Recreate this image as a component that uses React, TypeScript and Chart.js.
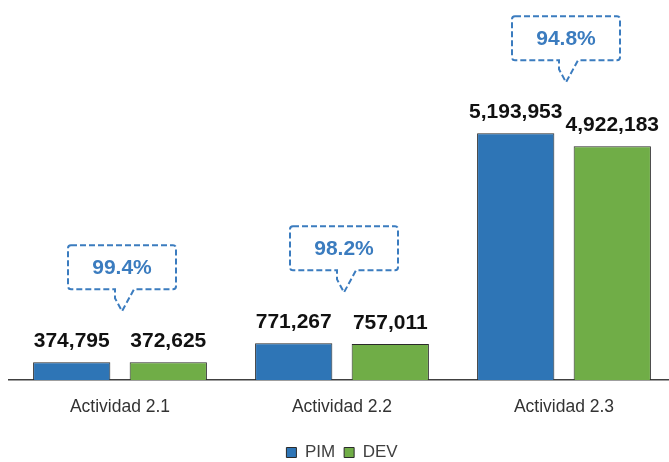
import React, { useEffect, useRef } from "react";
import { Chart, registerables } from "chart.js";

Chart.register(...registerables);

const categories = ["Actividad 2.1", "Actividad 2.2", "Actividad 2.3"];
const pimValues = [374795, 771267, 5193953];
const devValues = [372625, 757011, 4922183];
const seriesNames = ["PIM", "DEV"];
const yMax = 8000000;

const FONT = "'Liberation Sans', Arial, sans-serif";
const CALLOUT_COLOR = "#3B7CBF";

const valueLabels = {
  id: "valueLabels",
  afterDatasetsDraw(chart: any) {
    const ctx = chart.ctx;
    ctx.save();
    ctx.font = `bold 21px ${FONT}`;
    ctx.fillStyle = "#111111";
    ctx.textAlign = "center";
    ctx.textBaseline = "alphabetic";
    chart.data.datasets.forEach((ds: any, di: number) => {
      const meta = chart.getDatasetMeta(di);
      meta.data.forEach((el: any, i: number) => {
        const v = ds.data[i] as number;
        ctx.fillText(v.toLocaleString("en-US"), el.x, el.y - 15);
      });
    });
    ctx.restore();
  },
};

const callouts = {
  id: "callouts",
  afterDatasetsDraw(chart: any) {
    const ctx = chart.ctx;
    const xs = chart.scales.x;
    const ys = chart.scales.y;
    ctx.save();
    categories.forEach((_, i) => {
      const cx = xs.getPixelForValue(i) + 2;
      const barTop = ys.getPixelForValue(Math.max(pimValues[i], devValues[i]));
      const w = 108;
      const h = 44;
      const bottom = barTop - 73;
      const top = bottom - h;
      const left = cx - w / 2;
      const right = cx + w / 2;
      const tip = barTop - 51;
      const r = 3;
      ctx.beginPath();
      ctx.moveTo(left + r, top);
      ctx.lineTo(right - r, top);
      ctx.quadraticCurveTo(right, top, right, top + r);
      ctx.lineTo(right, bottom - r);
      ctx.quadraticCurveTo(right, bottom, right - r, bottom);
      ctx.lineTo(cx + 12, bottom);
      ctx.lineTo(cx, tip);
      ctx.lineTo(cx - 7, bottom + 9);
      ctx.lineTo(cx - 7, bottom);
      ctx.lineTo(left + r, bottom);
      ctx.quadraticCurveTo(left, bottom, left, bottom - r);
      ctx.lineTo(left, top + r);
      ctx.quadraticCurveTo(left, top, left + r, top);
      ctx.closePath();
      ctx.fillStyle = "#ffffff";
      ctx.fill();
      ctx.setLineDash([6, 3]);
      ctx.lineWidth = 2;
      ctx.strokeStyle = CALLOUT_COLOR;
      ctx.stroke();
      ctx.setLineDash([]);
      const pct = ((devValues[i] / pimValues[i]) * 100).toFixed(1) + "%";
      ctx.font = `bold 21px ${FONT}`;
      ctx.fillStyle = CALLOUT_COLOR;
      ctx.textAlign = "center";
      ctx.textBaseline = "middle";
      ctx.fillText(pct, cx, top + h / 2 + 1);
    });
    ctx.restore();
  },
};

export default function App() {
  const ref = useRef<HTMLCanvasElement | null>(null);

  useEffect(() => {
    document.body.style.margin = "0";
    document.body.style.overflow = "hidden";
    if (!ref.current) return;
    const chart = new Chart(ref.current, {
      type: "bar",
      data: {
        labels: categories,
        datasets: [
          {
            label: seriesNames[0],
            data: pimValues,
            backgroundColor: "#2E75B6",
            borderColor: "#2a2a2a",
            borderWidth: 1,
          },
          {
            label: seriesNames[1],
            data: devValues,
            backgroundColor: "#70AD47",
            borderColor: "#2a2a2a",
            borderWidth: 1,
          },
        ],
      },
      options: {
        responsive: false,
        animation: false,
        devicePixelRatio: 1,
        events: [],
        datasets: {
          bar: { categoryPercentage: 0.87, barPercentage: 0.8 },
        },
        layout: { padding: { left: 9, right: 10, top: 0, bottom: 0 } },
        scales: {
          x: {
            grid: { display: false, drawTicks: false },
            border: { display: true, color: "#404040", width: 1.5 },
            ticks: {
              padding: 23,
              color: "#333333",
              font: { family: FONT, size: 17.5, lineHeight: "9px" },
            },
          },
          y: {
            display: false,
            min: 0,
            max: yMax,
          },
        },
        plugins: {
          legend: {
            display: true,
            position: "bottom",
            labels: {
              boxWidth: 10,
              boxHeight: 10,
              padding: 9,
              color: "#404040",
              font: { family: FONT, size: 17 },
            },
          },
          tooltip: { enabled: false },
        },
      },
      plugins: [valueLabels, callouts],
    });
    return () => chart.destroy();
  }, []);

  return (
    <div style={{ width: 669, height: 462, overflow: "hidden", background: "#ffffff" }}>
      <canvas ref={ref} width={685} height={471} style={{ display: "block" }} />
    </div>
  );
}
